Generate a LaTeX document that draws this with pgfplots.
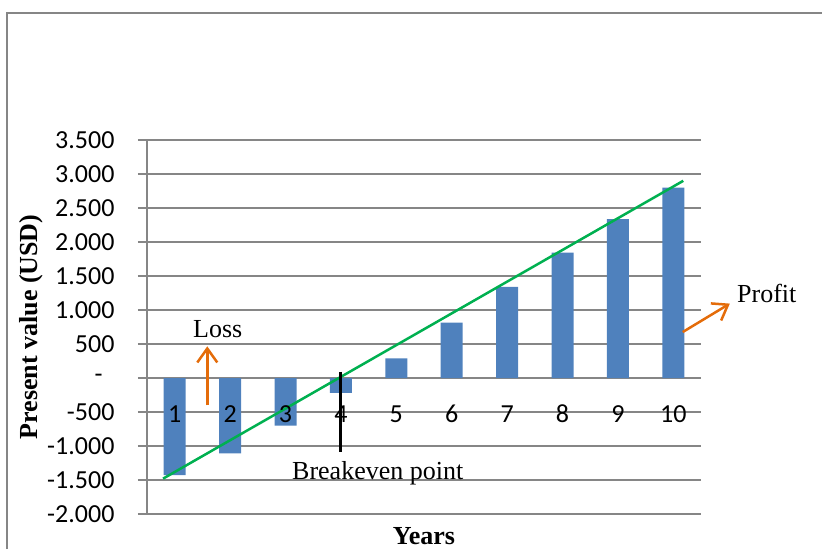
\documentclass[border=0pt]{standalone}
\usepackage{fontspec}
\setmainfont{Liberation Serif}
\newfontfamily\carlito{Carlito}
\usepackage{pgfplots}
\pgfplotsset{compat=1.18}
\usetikzlibrary{arrows.meta}
\definecolor{barblue}{RGB}{79,129,189}
\definecolor{gridgray}{RGB}{134,134,134}
\definecolor{trendgreen}{RGB}{0,176,80}
\definecolor{arroworange}{RGB}{228,108,10}
\newcommand\bigf{\fontsize{26}{30}\selectfont}
\begin{document}
\begin{tikzpicture}
\path[use as bounding box] (0pt,0pt) rectangle (822pt,-549pt);
\draw[gridgray, line width=1.5pt] (7pt,-549pt) -- (7pt,-13pt) -- (822pt,-13pt);
\begin{axis}[
  at={(147pt,-514pt)}, anchor=south west,
  scale only axis, width=554pt, height=374pt,
  xmin=0.5, xmax=10.5, ymin=-2000, ymax=3500,
  axis x line*=bottom, axis y line*=left,
  x axis line style={draw=none},
  y axis line style={gridgray, line width=2pt},
  xtick=\empty,
  ytick={-2000,-1500,...,3500},
  yticklabels={-2.000,-1.500,-1.000,-500,{-\hspace*{12pt}},500,1.000,1.500,2.000,2.500,3.000,3.500},
  ymajorgrids, grid style={gridgray, line width=2pt},
  ytick align=outside, major tick length=9pt,
  ytick style={gridgray, line width=2pt},
  yticklabel style={font=\carlito\bigf, anchor=east, xshift=-20pt},
  clip=false,
]
\addplot[ybar, bar width=22pt, fill=barblue, draw=none] coordinates {(1,-1430) (2,-1110) (3,-700) (4,-220) (5,290) (6,815) (7,1340) (8,1845) (9,2335) (10,2800)};
\addplot[trendgreen, line width=2.5pt] coordinates {(0.79,-1480) (10.18,2900)};
\addplot[black, line width=3pt] coordinates {(4,90) (4,-1090)};
\addplot[arroworange, line width=2.5pt, -{Straight Barb[length=14pt,width=20pt]}] coordinates {(1.588,-401) (1.588,466)};
\addplot[arroworange, line width=2.5pt, -{Straight Barb[length=14pt,width=20pt]}] coordinates {(10.17,676) (11.02,1094)};
\node[font=\carlito\bigf] at (axis cs:1,-530) {1};
\node[font=\carlito\bigf] at (axis cs:2,-530) {2};
\node[font=\carlito\bigf] at (axis cs:3,-530) {3};
\node[font=\carlito\bigf] at (axis cs:4,-530) {4};
\node[font=\carlito\bigf] at (axis cs:5,-530) {5};
\node[font=\carlito\bigf] at (axis cs:6,-530) {6};
\node[font=\carlito\bigf] at (axis cs:7,-530) {7};
\node[font=\carlito\bigf] at (axis cs:8,-530) {8};
\node[font=\carlito\bigf] at (axis cs:9,-530) {9};
\node[font=\carlito\bigf] at (axis cs:10,-530) {10};
\end{axis}
\node[font=\bigf, anchor=base west, inner sep=0pt] at (193pt,-337pt) {Loss};
\node[font=\bigf, anchor=base west, inner sep=0pt] at (737pt,-302pt) {Profit};
\node[font=\bigf, anchor=base west, inner sep=0pt] at (292pt,-479pt) {Breakeven point};
\node[font=\bigf\bfseries, anchor=base, inner sep=0pt] at (424pt,-544pt) {Years};
\node[font=\bigf\bfseries, anchor=base, inner sep=0pt, rotate=90] at (37.5pt,-327pt) {Present value (USD)};
\end{tikzpicture}
\end{document}
